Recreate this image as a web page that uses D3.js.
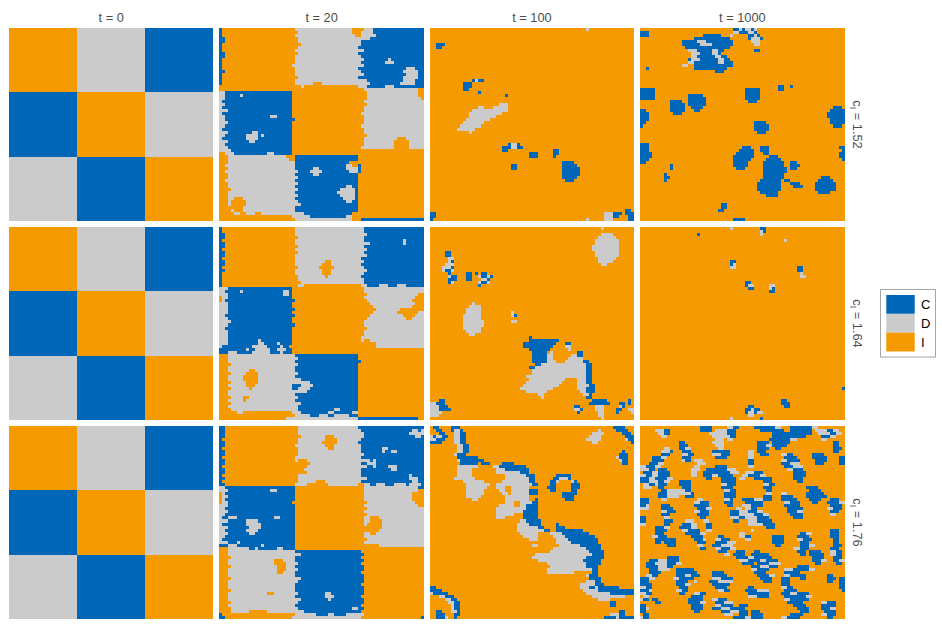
<!DOCTYPE html>
<html>
<head>
<meta charset="utf-8">
<script src="https://cdnjs.cloudflare.com/ajax/libs/d3/7.8.5/d3.min.js"></script>
<style>
html,body{margin:0;padding:0;background:#fff;}
svg{display:block;font-family:"Liberation Sans",Arial,sans-serif;}
</style>
</head>
<body>
<div id="chart"></div>
<script>
// Category labels and facet labels
const categories = ["C", "D", "I"];
const colors = ["#0067b8", "#cbcbcb", "#f59a00"];
const times = ["t = 0", "t = 20", "t = 100", "t = 1000"];
const costs = ["1.52", "1.64", "1.76"];
const gridCols = 68, gridRows = 64;

// Each row string lists "start column + state" runs: c, d or i. An absent row is all i.
const start3x3 = ["0i1d2c", "0c1i2d", "0d1c2i"];

const r1t20 = [
"0c1i25d44i48d51c","0c1i26d44i47d51c","0c1i25d45i47d52c","0c2i26d48d50c","0c2i26d47c","0c1i27d47c","0c1i26d46c","0c1i25d47d48c",
"0c2i26d46c","0c2i25d47c","0c1i25d46d48c56d57c","0c1i25d47c55d58c","0c1i24d47d48c","0c1i25d46c62d65c","0c2i25d47c61d66c","0c1i25d48c62d66c",
"0c1i26d46c61d66c","0c1i25d46d49c61d65c","0c1i25d31i34d46d50c60d65c","0i27d28i46d49c55d58c","0i25i48d66i","0d2c7c24i49d66i","0d2c7d8c24i49d66i","0d2c24i49d67i",
"0d1c24i48d","0d2c24i49d","0d1c24i48d","0d3c24i48d","0d1c24i47d","0d2c17d19c24i48d","0d2c25i48d","0d3c24i48d",
"0d2c24i47d","0d1c24i48d","0d3c11d13c24i48d","0d2c9d13c14d15c24i49d","0d1c9d13c24i48d59i62d","0d3c10d12c24i48d58i63d","0d2c24i48d58i63d","0d3c24i47d58i63d",
"0d4c24i","0i2d5c16d18c24i","0i3d22i25c46i","0i3d23i25c46i","0i3d25c43i47i","0i2d25c42d44i46c47i","0i3d25c31d33c42d46c47i","0i2d26c30d34c43d46c47i",
"0i3d25c31d33c46i","0i3d26c46i","0i2d25c46i","0i3d26c46i","0i3d25c42d44c46i","0i4d26c40d45c46i","0i3d25c39d45c46i","0i3d24d26c40d45c46i",
"0i3d5i8d25c41d45c46i","0i3d4i9d26c42d44c46i","0i3d4i9d24d27c46i","0i4d4i8d25c46i","0i4d5i8d25c46i","0i5d7i9d12i14d25d28c44i","0i24d30c42d44i","0i25d44i47c"];

const r1t100 = {0:"52d53i",5:"2c5i",6:"2c4i",17:"14c15d16c18i",18:"11c14i",19:"11c14i",20:"11c13i",21:"16c17i",22:"25c26i",
25:"23d26i",26:"16d18i21d26i",27:"14d26i",28:"13d24i",29:"13d22i",30:"12d20i",31:"11d18i",32:"10d17i",33:"9d15i",34:"13d14i",
38:"26c27d29c30i",39:"24c26i26c27d29c31i",40:"24c26i41c43i",41:"33c36i41c43i",42:"33c36i41c42i",44:"44c48i",45:"27c29i44c49i",46:"27c29i44c50i",47:"44c50i",48:"44c50i",49:"44c49i",50:"45c48i",
60:"65c67i",61:"0c2i58d61c64i65c67i66c",62:"0c2i58d61c63i66c",63:"0c1i52d53i58d61i66c"};

const r1t1000 = {0:"31c33d34c35d37c38d39i",1:"0c3i31d33c36d38c39i",2:"0c3i21c27i30d31i36c38d39c40i",3:"18c30i36c37d40c41i",4:"14c19d22c31i37d40i",5:"14c20d24c31i38d40i",6:"15c30i",
7:"16d19c24d26c28i38c40i",8:"17d20c24d26c27i",9:"17d19c25d27c29i",10:"16c17d20c26d28c30i",11:"16d18c26d28c31i",12:"14d16i18c31i",13:"2c3i18c29i",14:"25c28i",
19:"46c48i50c51i",20:"0c5i35c40i46c48i",21:"0c5i35c40i",22:"0c5i16c21i35c40i",23:"0c5i16c22i35c40i",24:"10c14i16c22i36c39i",25:"10c15i16c22i",26:"10c15i17c21i64c67i",27:"0c2i10c15i18c20i63c68i",
28:"0c3i11c14i62c",29:"0c3i62c",30:"0c3i63c",31:"0c2i38c42i63c",32:"0c1i38c43i64c67i",33:"38c43i",34:"39c42i",38:"0c3i",39:"0c3i34c37i40c43i66c",40:"0c3i33c38i40c43i67c",41:"0c4i32c38i41c43i66c",
42:"0c4i31c38i43c46i66c",43:"0c3i31c37i42c47i67c",44:"0c2i31c36i41c48i50c52i",45:"10c11i31c36i41c48i50c53i",46:"10c11i32c35i41c49i50c52i",47:"41c49i",48:"8c9i41c48i",49:"8c10i41c48i60c63i",
50:"8c9i40c47i48c50i59c64i",51:"39c47i50c53i58c65i",52:"39c47i51c54i58c65i",53:"39c47i58c65i",54:"40c46i59c63i",55:"42c46i",58:"27c29i",59:"27c29i",60:"26c28i",63:"31c35i"};

const r2t20 = [
"0c1i25d47d48c","0c1i25d48c","0c2i25d47d49c","0c2i26d48c","0c1i25d48c61d62c","0c2i25d47d50c61d62c","0c2i26d48c","0c1i25d48d49c",
"0c2i26d48c","0c2i25d47d49c","0c1i25d47c","0c2i25d35i37d47d48c","0c2i25d34i37d47c","0c1i26d33i38d48c","0c2i25d34i37d47d49c","0c1i25d34i37d48c",
"0c1i26d35i36d47c","0c1i26d47d48c","0c1i27d48c","0c1i26d28i47d49c53d56c59d62c","0d3c24i48d","0d2c7d8c21d23c24i48d","0d3c21d23c24i49d66i","0i1d3c24i48d65i",
"0i1d2c25i49d64i","0d3c24i50d65i","0d3c24i51d64i","0d3c25i52d60i","0d3c24i51d59i66d","0d2c25i50d61i65d","0d3c24i49d62i64d","0d4c24i48d",
"0d3c25i48d","0d2c24i49d","0d3c24i48d","0d3c24i48d","0d3c24i47d","0d3c13d14c24i47d48i50d","0d3c13d15c19d20c24i48i52d","0d1c11d16c20d21c23i48i52d",
"0c9d10c12d17c19d22c24i","0c3d6c11d17c20d21c24i","0i3d25c46i","0i3d24d26c46i","0i3d25c47i","0i4d26c46i","0i3d25c46i","0i3d10i12d25c46i",
"0i4d9i13d26c46i","0i3d8i13d25c46i","0i3d8i13d25d27c46i","0i4d9i13d26d30c46i","0i3d9i12d24c27d31c46i","0i4d10i11d24c26d30c46i","0i3d26d28d29c46i","0i3d25c46i",
"0i4d8i10d26c46i","0i3d8i9d25c46i","0i4d25d27c46i","0i3d26c46i","0i4d26c38d40c46i","0i6d8i24d27c36d38c44d46i","0i25d30c33d36c38d43c46i","0i22d46c66i"];

const r2t100 = {0:"57d58i",2:"57d61i",3:"56d62i",4:"55d63i",5:"55d63i",6:"54d63i",7:"54d63i",8:"5c7i55d63i",9:"5c7i55d63i",10:"6d8i56d62i",11:"6d7c8i56d61i",12:"5d8i57d59i",
13:"4d7c8i",14:"4d5c7d8i",15:"6c7i12c14i15c16i17c19i",16:"6d7c9i12c14i16d17c19d20i20c21i",17:"6c9i12c14i17d19c20i",18:"6c7d8i16d17c19d20i",19:"16c17i",
25:"14d15i",26:"13d17i",27:"12d17i",28:"12d17i27d28i",29:"11d17i27d28c29i",30:"11d17i",31:"11d18i27d29i",32:"11d18i",33:"11d17i",34:"12d17i",35:"13d15i",
36:"33c34i",37:"33c43i",38:"31c42i45c47i",39:"31c41i45d47i",40:"33c40i46d47i",41:"34c39i40d41i49c51i",42:"34c39d41i47d49c51i",43:"34c39d41i46d51i",44:"34c39d42i45d51c53i",45:"35c37d52c54i",46:"33c35d52c54i",47:"34d52c54i",48:"34d52c54i",
49:"32d52c54i",50:"33d45i49d52c54i",51:"32d44i49d52c54i",52:"31d43i49d53c55i",53:"30d41i49d52c55i",54:"32d39i50d52c55i",55:"36d38i51d53c54i",56:"37d38i52c54i",
57:"3c5i54c59i66c67i",58:"0d2c5i53c60i63c65i66c67i",59:"0d3c6i48c50i55d58i63d64c65i",60:"0d3c7i48d50c51i55d58i62c64i66d",61:"0d4i49c50i56d58i62c63i67d",62:"0d3i56d58i",63:"57d58i"};

const r2t1000 = {0:"30d31i40c42i",1:"40d41c42i",2:"19c20i40d41i",4:"48d49i",11:"30c32i",12:"30c31d32i",13:"30d32i52c54i",14:"52c54i",15:"53d54i",16:"53d55i",
18:"35c37i",19:"35c36d38i43d45i",20:"36c38i43d44c45i",21:"43c45i",53:"67c",57:"47c49i",58:"47c50i",59:"36c38i48c50i",60:"35c37d38c40i",61:"35c36d38c39d41i",62:"36d38i",63:"30d31i40c41i"};

const r3t20 = [
"0c2i26d46c","0c2i26d47c64d66c67d","0c2i26d46d48c63d","0c2i27d35i38d48c65d67c","0c1i26d35i39d47c","0c2i26d34i39d46c","0c2i25d35i38d47c","0c1i26d36i38d47c54d56c",
"0c2i26d47c54d55c57d59c","0c2i26d48c","0c1i25d47c","0c2i25d26i29d46d50c51d52c","0c2i26i30d47c49d52c","0c1i26i29d46d49c51d52c56d59c","0c2i25i28d47c57d59c","0c2i26i29d47c",
"0c1i26d47c63d64c","0c2i26d47d49c63d66c","0c1i26d32i35d47c64d66c","0c2i25d29i36d46i48d50c52d55c58d62c63d67c","0d2c25i48d64d66c","0d3c17d19c25i48d63d66i","0i1d2c25i47i48d64i",
"0i1d3c25i48d64i","0i1d2c25i48d64i","0i1d3c24i49d65i","0d3c25i48d66i","0d2c25i49d","0d3c25i48d","0d2c25i49d","0d1c3d6c18d20c25i48d50i53d",
"0d3c9d13c25i48d50i54d","0d1c9d14c25i48d49i54d","0d3c10d14c25i47i54d","0d2c9d13c25i48i53d","0d3c10d12c25i48d50i52d","0d2c25i48d","0d1c25i49d","0d3c6d7c25i48d",
"0c3d6c14d15c25i50i53d","0i3d10c12d13c19d21c25i","0i3d25c47i","0i3d24d27c48i","0i4d25c47i","0i3d18i21d25c48i","0i3d18i22d26c47i","0i4d19i22d25c48i",
"0i3d19i22d26c48i","0i3d19i21d25c47i","0i3d25c48i","0i4d24d27c48i","0i3d26c48i","0i3d25c47i","0i3d25c48i","0i4d25c48i",
"0i3d16i18d26c35d37c48i","0i3d25c35d38c47i","0i3d25d27c36d37c48i","0i4d26c48i","0i3d25c47i","0i4d26c44d46c48i","0i4d10i16d24d28c47i","0c1i25d32c36d38c42d48i","0c2i24d47i67c"];

const r3t100 = {0:"1c3i7c10i61c65i",1:"2c4i7c8d10c11i56d57i62c66i",2:"3c5i8d10c12i54d58i64c67i",3:"0d1c2d4c6i8d10c12i53d57i65c",4:"0d2c5i8d10c12i52d57i65d66c",5:"0c4i8d10c12i54d56i67c",6:"9d11c13i",
7:"9d11c13i",8:"9d11c13i64c65i",9:"8d9c12i63c66i",10:"9c16i62d63c66i",11:"9d10c18i63d64c66i",12:"10c16i17c20i24c28i64c66i",13:"9d16i21d23c32i",14:"9d14i22d25c33i",15:"9d14i22d30c33i",16:"9d14i25d32c35i42c47i",17:"8d15i25d33c35i41c43d46c47i",
18:"11d18i24d33c35i40c42d43i47d48c49i",19:"12d20i22d34c36i40c42i47c50i",20:"12d19i22d25i27d33i39c42i47c50i",21:"12d18i23d25i27d33c36i40c42i47c49i",22:"12d18i24d26i27d33c36i44c49i",23:"12d17i25d33i44c48i",24:"14d16i25d33i35c36i45c48i",
25:"25d28i30d34c36i",26:"23d28i30d32c36i",27:"22d32c36i",28:"22d31c36i",29:"22d28i31c36i",30:"22d25i31c36i",31:"30d32c37i",32:"29d33c37i42c43i",33:"29d36c38i42c45i",34:"29d38c40i42c51i",35:"30d36i40d44c53i",36:"31d36i41d45c55i",37:"33d36i42d46c56i",38:"42d47c56i",39:"34d36i43d50c57i",
40:"41d52c57i",41:"40d53c58i",42:"35d54c58i",43:"34d52c58i",44:"36d51c57i",45:"39d52c57i",46:"40d52c56i",47:"39d54c56i",48:"39d48i54c56i",49:"52d53c56i",50:"53c57i",51:"52d55c57i",52:"50d55c58i",53:"0c2i50d53c55d56c63i",54:"0c4i51d56c",55:"0d1c6i52d60c",
56:"3d5c8i54d65i",57:"5d7c9i56d60i",58:"6d8c10i60c62i",59:"7d8c10i60c62i",60:"7d8c10i",61:"2c4i7d9c10i63c65i",62:"2c5i8c10i60d62d63c65i",63:"2c5d6i8c9i58c62d63c"};

const r3t1000 = [
"20c24i29d31c33i38c45d47i50c57d59i","5d8c10i20c24i25d29c32i40c48i50c57i58d62c64d66i","6d8c10i23d29c32i44c57i59d63c65d67i","7d9i24d30c32i44c55i60c63d65i",
"25d28i29d31i43c50d52i60d62i","13c15i24d28i39c43i44c50i64c66i","13c16i25d28i39c42d44c49i64c66i","8d10i13c15d17i26d28i39c43i45c47i64c67i",
"7d10c11i14c17i24c30i36d38i39c42i64c66i","7c10i14d16c18i24d27c30i36d38i40c43i47d49c51i57c61i","4c7d9i14c17i25c29i36d38i48c52i57c62i66c","4c8i14d15c17i18d21i36c38i47d49c53i58c62i66c",
"3c6d8i19d22i36c38i47c50d53i58c61i66c","0d2c5d7i18d20i25c29i36d38i48c51d54i","0d3c5i6c9i17d20i22c29d32i49d51c54i","1c4d6c10i17d19i21c30d33i35d38c41i51c55i",
"0d2c4d6c10i17d19i21c24d26c31i34d36c40d42i51c55i","0c3d5c9d11i22c24i27c32i33d35i38c44i51c54i","0c3d6c8d10i13c17i27c32i41c44i52c54i","1d3c5d6c9i13c17i27d29c32i41d43c45i",
"1d4i6c8i14c17i27c31i41c44i55c59i","7c9d15c17i28d30c32i42c44i56c60i","6c9d15d17c18i28c32i42d44i47d49i55c61i","6c9d13i15c18i28c32i41c44i47c51i55c62i",
"0c3i7d9i19d21i28d30c31i34c38d41c44i47c52i56c60i63c66i","0c3i18d20c23i28c31i35c41i48d50c53i57c59i62c66d","0c2d3i7c10i18c23i29c31i34d37c41i48c53i63c67i","0d3i7c11i19c22d24i32d34i35d37c39i49c54i62d64c67i",
"7d9c12i18d20c23i30c33d36c39d41i49c52d54i63c66i","7c10i19c23i30c33d38c41d43i50c54i63d65i","0c2i8d10i20c22i30d33c35d39c43i51c54i","0c2i8c11i15d18i21d23i31c33i36d39c44i",
"0d2i8c10i14c17d19i22c24i36d41c45i","5c8d10i13c17d19i22c24i42c45i","5c9i14d16c20i22d24i37d38i63c66i","5c8i15c20d22i33d35i53c55d57i63c66i",
"4d6c9i17c21i26c28i33d35c37i44c48i52c56i63c66i","5c12i18c21d22i25d27c30i35d37i44c48i52d54c57i64c66i","5c7i8c12i19c22i25c29d32i44c48i53c56i64c66i","9c12i19d21i24c27d31i45c47i53c56d58i64c67i",
"20c22i25d27c30d32i51d53c56i63c66i","26c29i32c35i38c40i52c55i56c60i63d65c67i","28d30i31c35i37c43i53c55i56c61i63d65c67i","9c13i32c36d38c44i57c61i64c67i",
"3c6d9c13i33d36c40d42c46i57c60d62i64c66d","2c5d9c12d14i34c38i39c43d47i58c60i65c67i","2c6d9c11i37c40d43c46i52c56i","3c6d10i12c18i37d39c43i48d51c56d58i",
"3c7i12c19i24c28i38c42i48c53i","2d4c6i12c15d17c20i24c29i39c43d45i48d50c55i62c64i","0c3d5i11d13c18i24d27c31i40c44i47c50i53c55i62c65i66c","0c3i12c16i18d19i23c26d31i41c44i47c50i62c64i66c",
"0c4i12c15d17i24c30i47c50i66c","0d2c4i13c16i25c29i36c38i47d49c51i66c","0c3d4i12d14c16i26d28c30i35c39d43i48c52i67c","0d2c4i13c15i18d20c22i36c43i47c50d52c56i",
"1d3i17c21i36d39c43i48c55d57i","0d1c3i4c6i16c21i24d26c29i48d50c56i","5c7i16c20d22i25c28d31i49c54i60d62c65i","0c2i17c21i25d27c31i33c36i51c55i60c65i",
"0c2d3i17c21i24c27d30c35i52c56i60c63d65i","0c2i18c20i27c30d33c36i37c40i53c56i61c65i","1c3i28d31i33c36i37c41i50c54i60d62c65i","0d1c3i31c35d37c41i47d49c53i62c64i"];

const panels = [
  [start3x3, r1t20, r1t100, r1t1000],
  [start3x3, r2t20, r2t100, r2t1000],
  [start3x3, r3t20, r3t100, r3t1000]
];

const width = 942, height = 628;
const svg = d3.select("#chart").append("svg").attr("width", width).attr("height", height);

const facetX = d3.scaleBand().domain(times).range([9, 844.6]).paddingInner(0.0285);
const facetY = d3.scaleBand().domain(costs).range([28, 619]).paddingInner(0.0302);
const fill = d3.scaleOrdinal().domain(["c", "d", "i"]).range(colors);

// Expand one panel's rows into run rectangles
function runsOf(rows, nCols, nRows) {
  const out = [];
  for (let r = 0; r < nRows; r++) {
    const tokens = [...String(rows[r] || "").matchAll(/(\d+)([cdi])/g)]
      .map(m => ({ start: +m[1], state: m[2] }));
    if (!tokens.length || tokens[0].start > 0) tokens.unshift({ start: 0, state: "i" });
    tokens.forEach((t, k) => {
      const end = k + 1 < tokens.length ? tokens[k + 1].start : nCols;
      if (end > t.start) out.push({ row: r, from: t.start, to: Math.min(end, nCols), state: t.state });
    });
  }
  return out;
}

panels.forEach((rowPanels, ri) => {
  rowPanels.forEach((rows, ci) => {
    const coarse = rows === start3x3;
    const nCols = coarse ? 3 : gridCols, nRows = coarse ? 3 : gridRows;
    const x = d3.scaleLinear().domain([0, nCols]).range([0, facetX.bandwidth()]);
    const y = d3.scaleLinear().domain([0, nRows]).range([0, facetY.bandwidth()]);
    svg.append("g")
      .attr("transform", `translate(${facetX(times[ci])},${facetY(costs[ri])})`)
      .attr("shape-rendering", "crispEdges")
      .selectAll("rect").data(runsOf(rows, nCols, nRows)).join("rect")
      .attr("x", d => x(d.from))
      .attr("y", d => y(d.row))
      .attr("width", d => x(d.to) - x(d.from))
      .attr("height", d => y(d.row + 1) - y(d.row))
      .attr("fill", d => fill(d.state));
  });
});

// Column strips
svg.selectAll("text.col").data(times).join("text")
  .attr("class", "col")
  .attr("x", d => facetX(d) + facetX.bandwidth() / 2)
  .attr("y", 21.5)
  .attr("text-anchor", "middle")
  .attr("font-size", 12.8)
  .attr("fill", "#4d4d4d")
  .text(d => d);

// Row strips
const rowStrip = svg.selectAll("g.row").data(costs).join("g")
  .attr("class", "row")
  .attr("transform", d => `translate(853,${facetY(d) + facetY.bandwidth() / 2}) rotate(90)`);
const stripText = rowStrip.append("text")
  .attr("text-anchor", "middle")
  .attr("font-size", 12.8)
  .attr("fill", "#4d4d4d");
stripText.append("tspan").text("c");
stripText.append("tspan").attr("dy", 3).attr("font-size", 9).text("I");
stripText.append("tspan").attr("dy", -3).text(d => " = " + d);

// Legend
const legend = svg.append("g");
legend.append("rect")
  .attr("x", 880.5).attr("y", 289.5).attr("width", 55).attr("height", 67.5)
  .attr("fill", "#fff").attr("stroke", "#a6a6a6").attr("stroke-width", 1);
const legendY = d3.scaleBand().domain(categories).range([295, 351.5]);
legend.selectAll("rect.key").data(categories).join("rect")
  .attr("class", "key")
  .attr("x", 886.3).attr("width", 28.4)
  .attr("y", d => legendY(d)).attr("height", legendY.bandwidth())
  .attr("fill", (d, i) => colors[i]);
legend.selectAll("text").data(categories).join("text")
  .attr("x", 921)
  .attr("y", d => legendY(d) + legendY.bandwidth() / 2 + 4.7)
  .attr("font-size", 13)
  .attr("fill", "#000")
  .text(d => d);
</script>
</body>
</html>
